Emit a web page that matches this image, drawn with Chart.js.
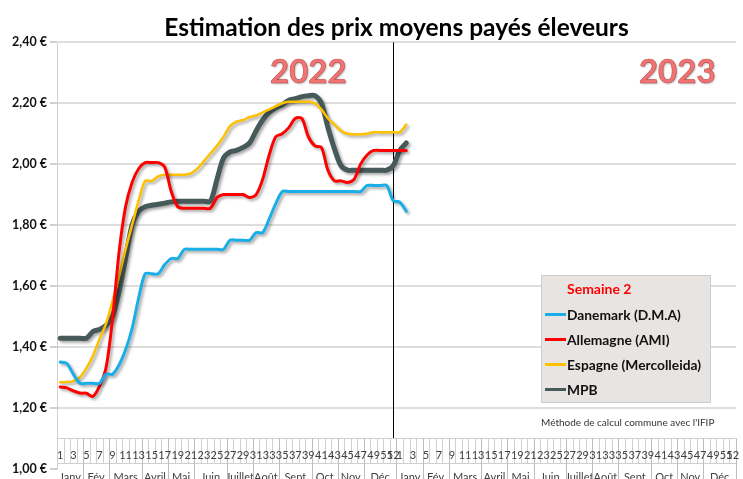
<!DOCTYPE html>
<html lang="fr">
<head>
<meta charset="utf-8">
<title>Estimation des prix moyens payés éleveurs</title>
<script src="https://cdn.jsdelivr.net/npm/chart.js@4.4.1/dist/chart.umd.min.js"></script>
<style>
  html, body { margin: 0; padding: 0; background: #fff; }
  #wrap { position: relative; width: 743px; height: 479px; overflow: hidden; }
  #legendBox {
    position: absolute; left: 541px; top: 275px; width: 170px; height: 128px;
    background: #e7e4e2; border: 1px solid #cdcdcd; box-sizing: border-box;
    font-family: Lato, sans-serif; font-weight: bold; color: #111;
  }
  #legendBox .head { position: absolute; left: 25px; top: 4px; color: #ff0000; font-size: 14px; }
  #legendBox ul { list-style: none; margin: 0; padding: 0; }
  #legendBox li { position: absolute; left: 3px; height: 18px; display: flex; align-items: center; font-size: 13.8px; white-space: nowrap; }
  #legendBox li span.sw { display: inline-block; width: 21px; height: 3px; margin-right: 1px; }
  #note { position: absolute; left: 541px; top: 416px; font-family: Lato, sans-serif; font-size: 10px; color: #333; }
</style>
</head>
<body>
<div id="wrap">
  <canvas id="chartDestination" width="743" height="479"></canvas>
  <div id="legendBox"><div class="head">Semaine 2</div><ul></ul></div>
  <div id="note">Méthode de calcul commune avec l'IFIP</div>
</div>
<script>
const weekNumbers = [];
for (let w = 1; w <= 52; w++) weekNumbers.push(String(w));
const categories = [...weekNumbers, ...weekNumbers]; // 2022 then 2023
const years = ["2022", "2023"];
const months = ["Janv", "Fév", "Mars", "Avril", "Mai", "Juin", "Juillet", "Août", "Sept", "Oct", "Nov", "Déc"];
const monthWeeks = [4, 4, 5, 4, 4, 5, 4, 4, 5, 4, 4, 5];
const yTicks = [1.0, 1.2, 1.4, 1.6, 1.8, 2.0, 2.2, 2.4];

const danemark = [1.35, 1.345, 1.31, 1.28, 1.28, 1.28, 1.28, 1.31, 1.31, 1.34,
  1.39, 1.46, 1.56, 1.64, 1.64, 1.64, 1.67, 1.69, 1.69, 1.72,
  1.72, 1.72, 1.72, 1.72, 1.72, 1.72, 1.75, 1.75, 1.75, 1.75,
  1.775, 1.775, 1.82, 1.87, 1.91, 1.91, 1.91, 1.91, 1.91, 1.91,
  1.91, 1.91, 1.91, 1.91, 1.91, 1.91, 1.91, 1.93, 1.93, 1.93,
  1.93, 1.88, 1.875, 1.845];
const allemagne = [1.268, 1.265, 1.255, 1.248, 1.247, 1.237, 1.27, 1.33, 1.49, 1.71,
  1.86, 1.94, 1.985, 2.005, 2.005, 2.005, 1.99, 1.91, 1.86, 1.855,
  1.855, 1.855, 1.855, 1.855, 1.89, 1.90, 1.90, 1.90, 1.90, 1.89,
  1.90, 1.95, 2.03, 2.09, 2.10, 2.12, 2.15, 2.15, 2.09, 2.06,
  2.055, 1.98, 1.945, 1.945, 1.94, 1.95, 2.00, 2.03, 2.045, 2.045,
  2.045, 2.045, 2.045, 2.045];
const espagne = [1.283, 1.284, 1.287, 1.30, 1.33, 1.37, 1.425, 1.475, 1.55, 1.63,
  1.72, 1.80, 1.88, 1.945, 1.945, 1.96, 1.965, 1.965, 1.965, 1.965,
  1.97, 1.985, 2.01, 2.035, 2.06, 2.09, 2.125, 2.14, 2.145, 2.155,
  2.16, 2.17, 2.18, 2.19, 2.20, 2.205, 2.205, 2.205, 2.205, 2.20,
  2.18, 2.15, 2.13, 2.11, 2.10, 2.098, 2.098, 2.10, 2.105, 2.105,
  2.105, 2.105, 2.105, 2.13];
const mpb = [1.428, 1.428, 1.428, 1.428, 1.428, 1.45, 1.457, 1.47, 1.50, 1.58,
  1.69, 1.80, 1.845, 1.86, 1.865, 1.868, 1.872, 1.876, 1.878, 1.878,
  1.878, 1.878, 1.878, 1.878, 1.95, 2.02, 2.04, 2.045, 2.055, 2.07,
  2.11, 2.145, 2.17, 2.185, 2.195, 2.21, 2.215, 2.222, 2.225, 2.225,
  2.20, 2.12, 2.05, 1.995, 1.98, 1.98, 1.98, 1.98, 1.98, 1.98,
  1.98, 1.995, 2.045, 2.07];

const FONT = "Lato, 'Open Sans', sans-serif";

// soft drop shadow under each line, like the spreadsheet original
const lineShadow = {
  id: "lineShadow",
  beforeDatasetDraw(chart) {
    const ctx = chart.ctx;
    ctx.save();
    ctx.shadowColor = "rgba(0,0,0,0.35)";
    ctx.shadowBlur = 3;
    ctx.shadowOffsetX = 2;
    ctx.shadowOffsetY = 2;
  },
  afterDatasetDraw(chart) {
    chart.ctx.restore();
  },
};

// year labels + year separator
const yearMarks = {
  id: "yearMarks",
  beforeDatasetsDraw(chart) {
    const { ctx, scales: { x, y }, chartArea } = chart;
    const sepX = x.getPixelForValue(51);
    ctx.save();
    ctx.strokeStyle = "#000";
    ctx.lineWidth = 1;
    ctx.beginPath();
    ctx.moveTo(Math.round(sepX) + 0.5, chartArea.top);
    ctx.lineTo(Math.round(sepX) + 0.5, y.getPixelForValue(1.1));
    ctx.stroke();

    ctx.font = "bold 33px " + FONT;
    ctx.textAlign = "center";
    ctx.textBaseline = "middle";
    const centers = [38, 94.5];
    years.forEach((yr, i) => {
      const px = x.getPixelForValue(centers[i]);
      const py = y.getPixelForValue(2.3);
      ctx.shadowColor = "rgba(0,0,0,0.3)";
      ctx.shadowBlur = 2;
      ctx.shadowOffsetX = 1;
      ctx.shadowOffsetY = 1;
      ctx.fillStyle = "#f07474";
      ctx.fillText(yr, px, py);
      ctx.shadowColor = "transparent";
      ctx.strokeStyle = "#c0504d";
      ctx.lineWidth = 0.6;
      ctx.strokeText(yr, px, py);
    });
    ctx.restore();
  },
};

// two-level category table (weeks / months) drawn in the bottom strip
const weekTable = {
  id: "weekTable",
  afterDraw(chart) {
    const { ctx, scales: { x, y }, chartArea } = chart;
    const top = Math.round(y.getPixelForValue(1.1)) + 0.5;
    const mid = top + 25;
    const bottom = chart.height;
    const step = x.getPixelForValue(1) - x.getPixelForValue(0);
    const left = chartArea.left;
    ctx.save();
    ctx.fillStyle = "#fff";
    ctx.fillRect(left + 1, top, chartArea.right - left, bottom - top);
    ctx.strokeStyle = "#d0d0d0";
    ctx.lineWidth = 1;
    ctx.beginPath();
    ctx.moveTo(left, top);
    ctx.lineTo(chartArea.right, top);
    ctx.moveTo(left, mid);
    ctx.lineTo(chartArea.right, mid);
    for (let i = 1; i <= categories.length; i++) {
      const bx = Math.round(left + i * step) + 0.5;
      ctx.moveTo(bx, top);
      ctx.lineTo(bx, mid);
    }
    ctx.stroke();

    ctx.strokeStyle = "#bdbdbd";
    ctx.beginPath();
    let idx = 0;
    for (let yr = 0; yr < 2; yr++) {
      monthWeeks.forEach((n, m) => {
        const x0 = left + idx * step;
        idx += n;
        const x1 = left + idx * step;
        ctx.moveTo(Math.round(x1) + 0.5, top);
        ctx.lineTo(Math.round(x1) + 0.5, bottom);
        ctx.fillStyle = "#404040";
        ctx.font = "11px " + FONT;
        ctx.textAlign = "center";
        ctx.textBaseline = "middle";
        ctx.fillText(months[m], (x0 + x1) / 2, mid + 14);
      });
    }
    ctx.stroke();

    ctx.fillStyle = "#404040";
    ctx.font = "11px " + FONT;
    ctx.textAlign = "center";
    ctx.textBaseline = "middle";
    categories.forEach((lab, i) => {
      const w = Number(lab);
      if (w % 2 === 1 || w === 52) {
        ctx.fillText(lab, x.getPixelForValue(i), top + 17);
      }
    });
    ctx.restore();
  },
};

const htmlLegend = {
  id: "htmlLegend",
  afterUpdate(chart) {
    const ul = document.querySelector("#legendBox ul");
    while (ul.firstChild) ul.firstChild.remove();
    chart.data.datasets.forEach((ds, i) => {
      const li = document.createElement("li");
      li.style.top = (29 + i * 25) + "px";
      const sw = document.createElement("span");
      sw.className = "sw";
      sw.style.background = ds.borderColor;
      li.appendChild(sw);
      li.appendChild(document.createTextNode(ds.label));
      ul.appendChild(li);
    });
  },
};

const ctx = document.getElementById("chartDestination");
const chart = new Chart(ctx, {
  type: "line",
  data: {
    labels: categories,
    datasets: [
      { label: "Danemark (D.M.A)", data: danemark, borderColor: "#19aee8", borderWidth: 3 },
      { label: "Allemagne (AMI)", data: allemagne, borderColor: "#ff0000", borderWidth: 3 },
      { label: "Espagne (Mercolleida)", data: espagne, borderColor: "#ffc000", borderWidth: 2.5 },
      { label: "MPB", data: mpb, borderColor: "#475a5a", borderWidth: 5 },
    ],
  },
  options: {
    responsive: false,
    animation: false,
    layout: { padding: { top: 0, right: 7, bottom: 6, left: 0 } },
    elements: {
      point: { radius: 0 },
      line: { tension: 0.3, fill: false, borderCapStyle: "round", borderJoinStyle: "round" },
    },
    scales: {
      x: { type: "category", display: false, offset: true },
      y: {
        min: 1.0,
        max: 2.4,
        afterFit(scale) { scale.width = 57; },
        afterBuildTicks(scale) { scale.ticks = yTicks.map((v) => ({ value: v })); },
        ticks: {
          padding: 3,
          color: "#111",
          font: { family: FONT, size: 12.5, weight: "bold" },
          callback: (v) => v.toFixed(2).replace(".", ",") + " €",
        },
        grid: {
          color: (c) => (c.tick && c.tick.value === 1.0 ? "rgba(0,0,0,0)" : "#dedede"),
          lineWidth: 2,
          tickLength: 7,
          tickColor: "#d0d0d0",
        },
        border: { color: "#d0d0d0", width: 1 },
      },
    },
    plugins: {
      legend: { display: false },
      tooltip: { enabled: false },
      title: {
        display: true,
        fullSize: false,
        text: "Estimation des prix moyens payés éleveurs",
        color: "#000",
        font: { family: FONT, size: 24.5, weight: "bold" },
        padding: { top: 13, bottom: 0 },
      },
    },
  },
  plugins: [lineShadow, yearMarks, weekTable, htmlLegend],
});
</script>
</body>
</html>
